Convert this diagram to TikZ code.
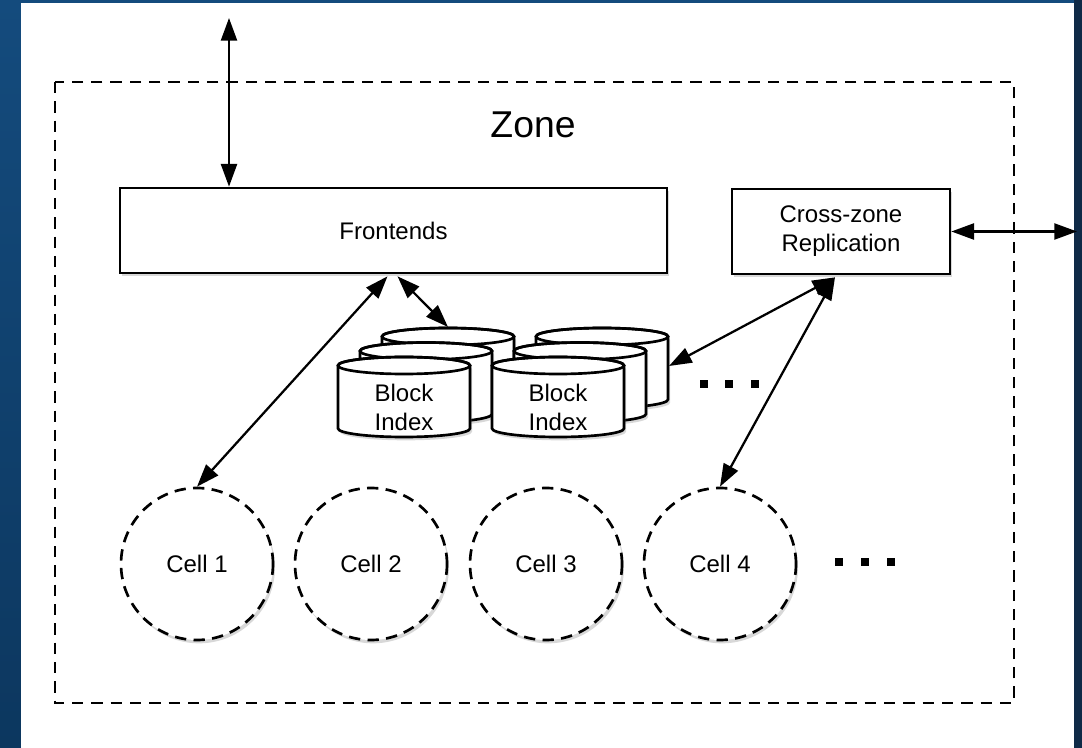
\documentclass[tikz,border=0pt]{standalone}
\usepackage{fontspec}
\setmainfont{Liberation Sans}
\usetikzlibrary{arrows.meta,shadows,calc,positioning}
\definecolor{slideTop}{RGB}{20,75,125}
\definecolor{slideMid}{RGB}{30,108,172}
\definecolor{slideBottom}{RGB}{12,55,95}
\definecolor{slideNavy}{RGB}{15,42,71}

\begin{document}
\begin{tikzpicture}[x=0.75pt,y=-0.75pt,
    lbl/.style={font=\fontsize{18}{21.75}\selectfont, align=center},
    softshadow/.style={drop shadow={opacity=0.3, shadow xshift=1.5pt, shadow yshift=-2.5pt}},
    box/.style={lbl, draw, line width=2pt, fill=white, softshadow, inner sep=0pt},
    cell/.style={lbl, circle, draw, line width=2pt, dash pattern=on 8.5pt off 5.5pt,
        fill=white, softshadow, minimum size=114pt, inner sep=0pt},
    disk/.style={draw, line width=2pt, fill=white, softshadow},
    zoneline/.style={line width=1.8pt, dash pattern=on 8.5pt off 6pt},
    link/.style={line width=1.7pt,
        {Triangle[length=17pt,width=12pt]}-{Triangle[length=17pt,width=12pt]}}]
    \useasboundingbox (0,0) rectangle (1082,748);

    % Slide background
    \shade[top color=slideTop, middle color=slideMid, bottom color=slideBottom]
        (0,0) rectangle (1082,748);
    \fill[slideNavy] (1074,0) rectangle (1082,748);
    \fill[white] (21,3) rectangle (1074,748);

    % Zone outline
    \draw[zoneline] (55,82) rectangle (1014,703);
    \node[font=\fontsize{28}{34}\selectfont, anchor=base] (zonetitle) at (533,138) {Zone};

    % Frontends and replication
    \node[box, minimum width=410.25pt, minimum height=63.75pt] (front) at (393.5,230.5) {Frontends};
    \node[box, minimum width=163.5pt, minimum height=63.75pt] (cross) at (841,231.5) {Cross-zone\\Replication};

    % Block index stacks
    \foreach \g in {0,154} {
        \foreach \k in {2,1,0} {
            \pgfmathsetmacro\cl{338+\g+22*\k}
            \pgfmathsetmacro\ct{357-14.5*\k}
            \draw[disk] (\cl,\ct+8.5) -- (\cl,\ct+71.5)
                arc[start angle=180, end angle=0, x radius=66, y radius=8.5]
                -- (\cl+132,\ct+8.5)
                arc[start angle=0, end angle=-180, x radius=66, y radius=8.5] -- cycle;
            \draw[line width=2pt] (\cl+66,\ct+8.5) ellipse[x radius=66, y radius=8.5];
        }
    }
    \node[lbl] (idx1) at (404,407) {Block\\Index};
    \node[lbl] (idx2) at (558,407) {Block\\Index};
    \coordinate (stackA) at (448,327);
    \coordinate (stackB) at (669,366);

    % Cells
    \foreach \i/\x in {1/197, 2/371, 3/546, 4/720} {
        \node[cell] (cell\i) at (\x,564) {Cell \i};
    }

    % More to come
    \foreach \x in {704,729,755} {
        \fill (\x-4,380) rectangle (\x+4,388);
    }
    \foreach \x in {839,865,891} {
        \fill (\x-4,558) rectangle (\x+4,566);
    }

    % Connectors
    \coordinate (extTop) at (229,18);
    \coordinate (extRight) at (1077,231.5);
    \draw[link] (extTop) -- (extTop |- front.north);
    \draw[link] (cross.east) -- (extRight);
    \draw[link] ($(front.south)+(-6,2)$) -- (cell1.north);
    \draw[link] ($(front.south)+(4,2)$) -- (stackA);
    \draw[link] ($(cross.south)+(-6,2)$) -- (stackB);
    \draw[link] ($(cross.south)+(-6,2)$) -- (cell4.north);
\end{tikzpicture}
\end{document}
